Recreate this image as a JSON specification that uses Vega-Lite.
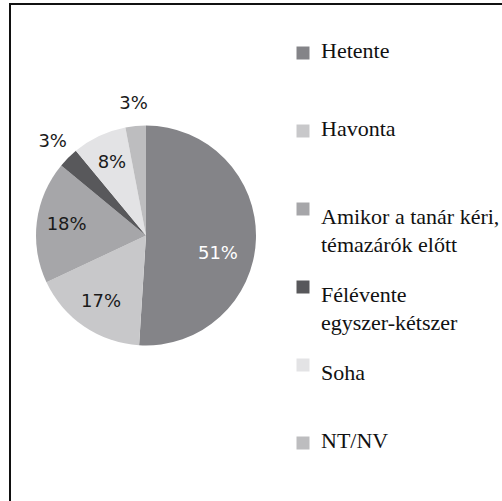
{
  "$schema": "https://vega.github.io/schema/vega-lite/v6.json",
  "autosize": "none",
  "padding": {"left": 10, "top": 4, "right": 0, "bottom": 0},
  "width": 500,
  "height": 510,
  "background": "white",
  "view": {"stroke": "#111111", "strokeWidth": 2, "fill": "white"},
  "data": {
    "values": [
      {"category": "Hetente", "value": 51, "label": "51%", "rank": 1},
      {"category": "Havonta", "value": 17, "label": "17%", "rank": 2},
      {"category": "Amikor a tanár kéri, témazárók előtt", "value": 18, "label": "18%", "rank": 3},
      {"category": "Félévente egyszer-kétszer", "value": 3, "label": "3%", "rank": 4},
      {"category": "Soha", "value": 8, "label": "8%", "rank": 5},
      {"category": "NT/NV", "value": 3, "label": "3%", "rank": 6}
    ]
  },
  "encoding": {
    "theta": {"field": "value", "type": "quantitative", "stack": true},
    "order": {"field": "rank", "type": "quantitative", "sort": "ascending"}
  },
  "layer": [
    {
      "mark": {"type": "arc", "outerRadius": 110, "x": 136, "y": 231.5},
      "encoding": {
        "color": {
          "field": "category",
          "type": "nominal",
          "sort": ["Hetente", "Havonta", "Amikor a tanár kéri, témazárók előtt", "Félévente egyszer-kétszer", "Soha", "NT/NV"],
          "scale": {
            "domain": ["Hetente", "Havonta", "Amikor a tanár kéri, témazárók előtt", "Félévente egyszer-kétszer", "Soha", "NT/NV"],
            "range": ["#848488", "#c8c8ca", "#a6a6a9", "#58585b", "#e3e3e5", "#bdbdbf"]
          },
          "legend": {
            "title": null,
            "orient": "none",
            "legendX": 282,
            "legendY": 38,
            "padding": 0,
            "symbolType": "square",
            "symbolSize": 169,
            "symbolStrokeWidth": 0,
            "symbolOpacity": 1,
            "labelFont": "Liberation Serif",
            "labelFontSize": 22,
            "labelColor": "#111111",
            "labelOffset": 7,
            "labelLimit": 300,
            "gridAlign": "all",
            "rowPadding": 18,
            "labelExpr": "datum.label == 'Amikor a tanár kéri, témazárók előtt' ? ['Amikor a tanár kéri,', 'témazárók előtt'] : datum.label == 'Félévente egyszer-kétszer' ? ['Félévente', 'egyszer-kétszer'] : datum.label",
            "encode": {
              "labels": {
                "update": {
                  "lineHeight": {"value": 28},
                  "font": {"value": "Liberation Serif"},
                  "dy": {"signal": "indexof(['Amikor a tanár kéri, témazárók előtt', 'Félévente egyszer-kétszer', 'Soha'], datum.value) >= 0 ? 8 : -2"}
                }
              }
            }
          }
        }
      }
    },
    {
      "mark": {
        "type": "text",
        "x": 136,
        "y": 231.5,
        "font": "DejaVu Sans",
        "fontSize": 18,
        "radius": {"expr": "datum.value < 5 ? 132 : (datum.value > 40 ? 72 : 80)"},
        "dy": {"expr": "datum.value > 40 ? 16 : 0"}
      },
      "encoding": {
        "text": {"field": "label"},
        "color": {"condition": {"test": "datum.value > 40", "value": "#ffffff"}, "value": "#1a1a1a"}
      }
    }
  ]
}
